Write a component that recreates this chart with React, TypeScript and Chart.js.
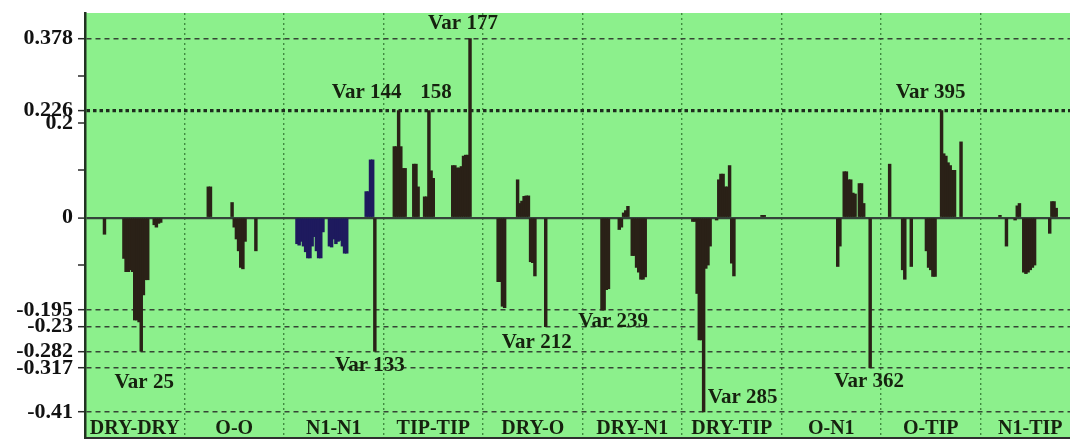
import { useEffect, useRef } from 'react';
import { Chart, registerables } from 'chart.js';

Chart.register(...registerables);

// Interaction classes, 46 variable slots each along the x axis
const groupLabels = ['DRY-DRY', 'O-O', 'N1-N1', 'TIP-TIP', 'DRY-O', 'DRY-N1', 'DRY-TIP', 'O-N1', 'O-TIP', 'N1-TIP'];
const varsPerGroup = 46;
const varAxisStart = -1;

// [variable number, coefficient] for every non-zero variable, per class
const dryDry: [number, number][] = [
  [8, -0.035], [17, -0.086], [18, -0.114], [19, -0.114], [20, -0.11], [21, -0.114], [22, -0.216],
  [23, -0.216], [24, -0.22], [25, -0.282], [26, -0.163], [27, -0.131], [28, -0.131],
  [31, -0.015], [32, -0.02], [33, -0.012], [34, -0.01],
];
const oO: [number, number][] = [
  [56, 0.065], [57, 0.065], [67, 0.032], [68, -0.02], [69, -0.045], [70, -0.07], [71, -0.105],
  [72, -0.108], [73, -0.05], [78, -0.07],
];
const n1N1: [number, number][] = [
  [97, -0.055], [98, -0.058], [99, -0.05], [100, -0.06], [101, -0.072], [102, -0.085], [103, -0.085],
  [104, -0.06], [105, -0.04], [106, -0.07], [107, -0.085], [108, -0.085], [109, -0.03],
  [112, -0.06], [113, -0.062], [114, -0.045], [115, -0.055], [116, -0.05], [117, -0.048],
  [118, -0.06], [119, -0.075], [120, -0.075], [129, 0.055], [130, 0.055], [131, 0.122],
  [132, 0.122], [133, -0.282],
];
const tipTip: [number, number][] = [
  [142, 0.15], [143, 0.15], [144, 0.226], [145, 0.15], [146, 0.104], [147, 0.104],
  [151, 0.113], [152, 0.113], [153, 0.065], [156, 0.044], [157, 0.044], [158, 0.226],
  [159, 0.099], [160, 0.083], [169, 0.11], [170, 0.11], [171, 0.105], [172, 0.105],
  [173, 0.108], [174, 0.13], [175, 0.132], [176, 0.132], [177, 0.378],
];
const dryO: [number, number][] = [
  [190, -0.135], [191, -0.135], [192, -0.187], [193, -0.19], [199, 0.08], [200, 0.03],
  [201, 0.035], [202, 0.045], [203, 0.046], [204, 0.046], [205, -0.093], [206, -0.095],
  [207, -0.123], [212, -0.23],
];
const dryN1: [number, number][] = [
  [238, -0.195], [239, -0.195], [240, -0.152], [241, -0.15], [246, -0.025], [247, -0.02],
  [248, 0.01], [249, 0.015], [250, 0.024], [252, -0.08], [253, -0.08], [254, -0.105],
  [255, -0.115], [256, -0.13], [257, -0.13], [258, -0.125],
];
const dryTip: [number, number][] = [
  [280, -0.008], [281, -0.008], [282, -0.16], [283, -0.258], [284, -0.258], [285, -0.41],
  [286, -0.107], [287, -0.1], [288, -0.06], [291, -0.005], [292, 0.08], [293, 0.092],
  [294, 0.092], [295, 0.065], [296, 0.065], [297, 0.11], [298, -0.096], [299, -0.123],
  [312, 0.005], [313, 0.005],
];
const oN1: [number, number][] = [
  [347, -0.103], [348, -0.06], [350, 0.097], [351, 0.097], [352, 0.08], [353, 0.08],
  [354, 0.052], [355, 0.05], [357, 0.072], [358, 0.072], [359, 0.03], [362, -0.317],
];
const oTip: [number, number][] = [
  [371, 0.113], [377, -0.11], [378, -0.13], [381, -0.103], [388, -0.07], [389, -0.105],
  [390, -0.11], [391, -0.124], [392, -0.124], [395, 0.226], [396, 0.135], [397, 0.13],
  [398, 0.116], [399, 0.11], [400, 0.1], [401, 0.1], [404, 0.16],
];
const n1Tip: [number, number][] = [
  [422, 0.005], [425, -0.06], [429, -0.005], [430, 0.025], [431, 0.03], [433, -0.115],
  [434, -0.118], [435, -0.115], [436, -0.11], [437, -0.105], [438, -0.1], [445, -0.033],
  [446, 0.034], [447, 0.034], [448, 0.02],
];

const groups = [dryDry, oO, n1N1, tipTip, dryO, dryN1, dryTip, oN1, oTip, n1Tip];

// Value axis
const yMin = -0.465;
const yMax = 0.432;
const yTickValues = [-0.41, -0.317, -0.282, -0.23, -0.195, -0.1, 0, 0.1, 0.2, 0.226, 0.3, 0.378];
const labeledTicks = [0.378, 0.226, 0.2, 0, -0.195, -0.23, -0.282, -0.317, -0.41];
const dashedLevels = [0.378, -0.195, -0.23, -0.282, -0.317, -0.41];
const thresholdLevel = 0.226;
const groupLabelLevel = -0.446;

// Highlighted variables
const callouts = [
  { varNo: 25, text: 'Var 25' },
  { varNo: 133, text: 'Var 133' },
  { varNo: 144, text: 'Var 144' },
  { varNo: 158, text: '158' },
  { varNo: 177, text: 'Var 177' },
  { varNo: 212, text: 'Var 212' },
  { varNo: 239, text: 'Var 239' },
  { varNo: 285, text: 'Var 285' },
  { varNo: 362, text: 'Var 362' },
  { varNo: 395, text: 'Var 395' },
];

// Text offset (px) of each callout from its bar tip
const calloutOffset: Record<number, [number, number]> = {
  25: [3, 31], 133: [-5, 14], 144: [-32, -18], 158: [7, -18], 177: [-7, -15],
  212: [-9, 16], 239: [9, 12], 285: [39, -14], 362: [-1, 14], 395: [-11, -18],
};

const SERIF = "'Liberation Serif', 'Times New Roman', serif";
const PLOT_GREEN = '#8cf08c';
const TEXT_DARK = '#16220f';

type Pt = { x: number; y: number; g: number };

const points: Pt[] = groups.flatMap((g, gi) => g.map(([v, y]) => ({ x: v, y, g: gi })));
const valueOf = (varNo: number) => points.find((p) => p.x === varNo)?.y ?? 0;

const near = (a: number, b: number) => Math.abs(a - b) < 1e-9;

const plotDecor = {
  id: 'plotDecor',
  beforeDraw(chart: any) {
    const { ctx, chartArea } = chart;
    ctx.save();
    ctx.fillStyle = PLOT_GREEN;
    ctx.fillRect(chartArea.left, chartArea.top, chartArea.right - chartArea.left, chartArea.bottom - chartArea.top);
    ctx.restore();
  },
  afterDraw(chart: any) {
    const { ctx } = chart;
    const xs = chart.scales.x;
    const ys = chart.scales.y;
    ctx.save();
    ctx.fillStyle = TEXT_DARK;
    ctx.textAlign = 'center';
    ctx.textBaseline = 'middle';

    ctx.font = `bold 20px ${SERIF}`;
    groupLabels.forEach((label, i) => {
      const cx = xs.getPixelForValue(varAxisStart + varsPerGroup * (i + 0.5));
      ctx.fillText(label, cx, ys.getPixelForValue(groupLabelLevel));
    });

    ctx.font = `bold 21px ${SERIF}`;
    callouts.forEach(({ varNo, text }) => {
      const [dx, dy] = calloutOffset[varNo] || [0, 0];
      const px = xs.getPixelForValue(varNo);
      const py = ys.getPixelForValue(valueOf(varNo));
      ctx.fillText(text, px + dx, py + dy);
    });
    ctx.restore();
  },
};

function yLineStyle(value: number | undefined) {
  if (value === undefined) return { color: 'rgba(0,0,0,0)', width: 0, dash: [] as number[] };
  if (near(value, 0)) return { color: '#34443a', width: 2.2, dash: [] as number[] };
  if (near(value, thresholdLevel)) return { color: '#1d2b1d', width: 3.2, dash: [3.5, 3] };
  if (dashedLevels.some((d) => near(d, value))) return { color: '#354535', width: 1.4, dash: [5, 4] };
  return { color: 'rgba(0,0,0,0)', width: 0, dash: [] as number[] };
}

export default function App() {
  const ref = useRef<HTMLCanvasElement>(null);

  useEffect(() => {
    const separators = Array.from({ length: groupLabels.length - 1 }, (_, i) => ({
      value: varAxisStart + varsPerGroup * (i + 1),
    }));

    const chart = new Chart(ref.current as HTMLCanvasElement, {
      type: 'bar',
      data: {
        datasets: [
          {
            data: points as any,
            backgroundColor: (c: any) => {
              const p = c.raw as Pt | undefined;
              if (!p) return '#2a2117';
              if (p.g === 2 && p.x !== 133) return '#1e1a5e';
              return '#2a2117';
            },
            borderWidth: 0,
            barThickness: 2.8,
          },
        ],
      },
      options: {
        animation: false,
        responsive: true,
        maintainAspectRatio: false,
        layout: { padding: { top: 13, bottom: 2, left: 0, right: 2 } },
        plugins: { legend: { display: false }, tooltip: { enabled: false } },
        scales: {
          x: {
            type: 'linear',
            min: varAxisStart,
            max: varAxisStart + varsPerGroup * groupLabels.length,
            offset: false,
            grid: {
              offset: false,
              drawTicks: false,
              color: '#3f8a3f',
              lineWidth: 1.4,
            },
            border: { display: true, color: '#2e2e2e', width: 2, dash: [2, 3] },
            ticks: { display: false },
            afterBuildTicks: (s: any) => {
              s.ticks = separators;
            },
            afterFit: (s: any) => {
              s.height = 0;
              s.paddingLeft = 0;
              s.paddingRight = 0;
            },
          },
          y: {
            type: 'linear',
            min: yMin,
            max: yMax,
            afterBuildTicks: (s: any) => {
              s.ticks = yTickValues.map((value) => ({ value }));
            },
            afterFit: (s: any) => {
              s.width = 85;
              s.paddingTop = 0;
              s.paddingBottom = 0;
            },
            ticks: {
              autoSkip: false,
              padding: 5,
              color: '#111',
              font: { family: SERIF, size: 22, weight: 'bold' },
              callback: (v: any) => {
                const n = Number(v);
                const hit = labeledTicks.find((t) => near(t, n));
                return hit === undefined ? '' : String(hit);
              },
            },
            grid: {
              color: (c: any) => yLineStyle(c.tick?.value).color,
              lineWidth: (c: any) => yLineStyle(c.tick?.value).width,
              tickColor: '#2a2a2a',
              tickLength: 7,
              tickWidth: 1.5,
            },
            border: {
              display: true,
              color: '#223322',
              width: 2.5,
              dash: (c: any) => yLineStyle(c.tick?.value).dash,
            },
          },
        },
      },
      plugins: [plotDecor],
    } as any);

    return () => chart.destroy();
  }, []);

  return (
    <div
      style={{
        position: 'fixed',
        left: 0,
        top: 0,
        width: 1070,
        height: 440,
        overflow: 'hidden',
        background: '#ffffff',
      }}
    >
      <div style={{ position: 'relative', width: 1082, height: 440 }}>
        <canvas ref={ref} />
      </div>
    </div>
  );
}
